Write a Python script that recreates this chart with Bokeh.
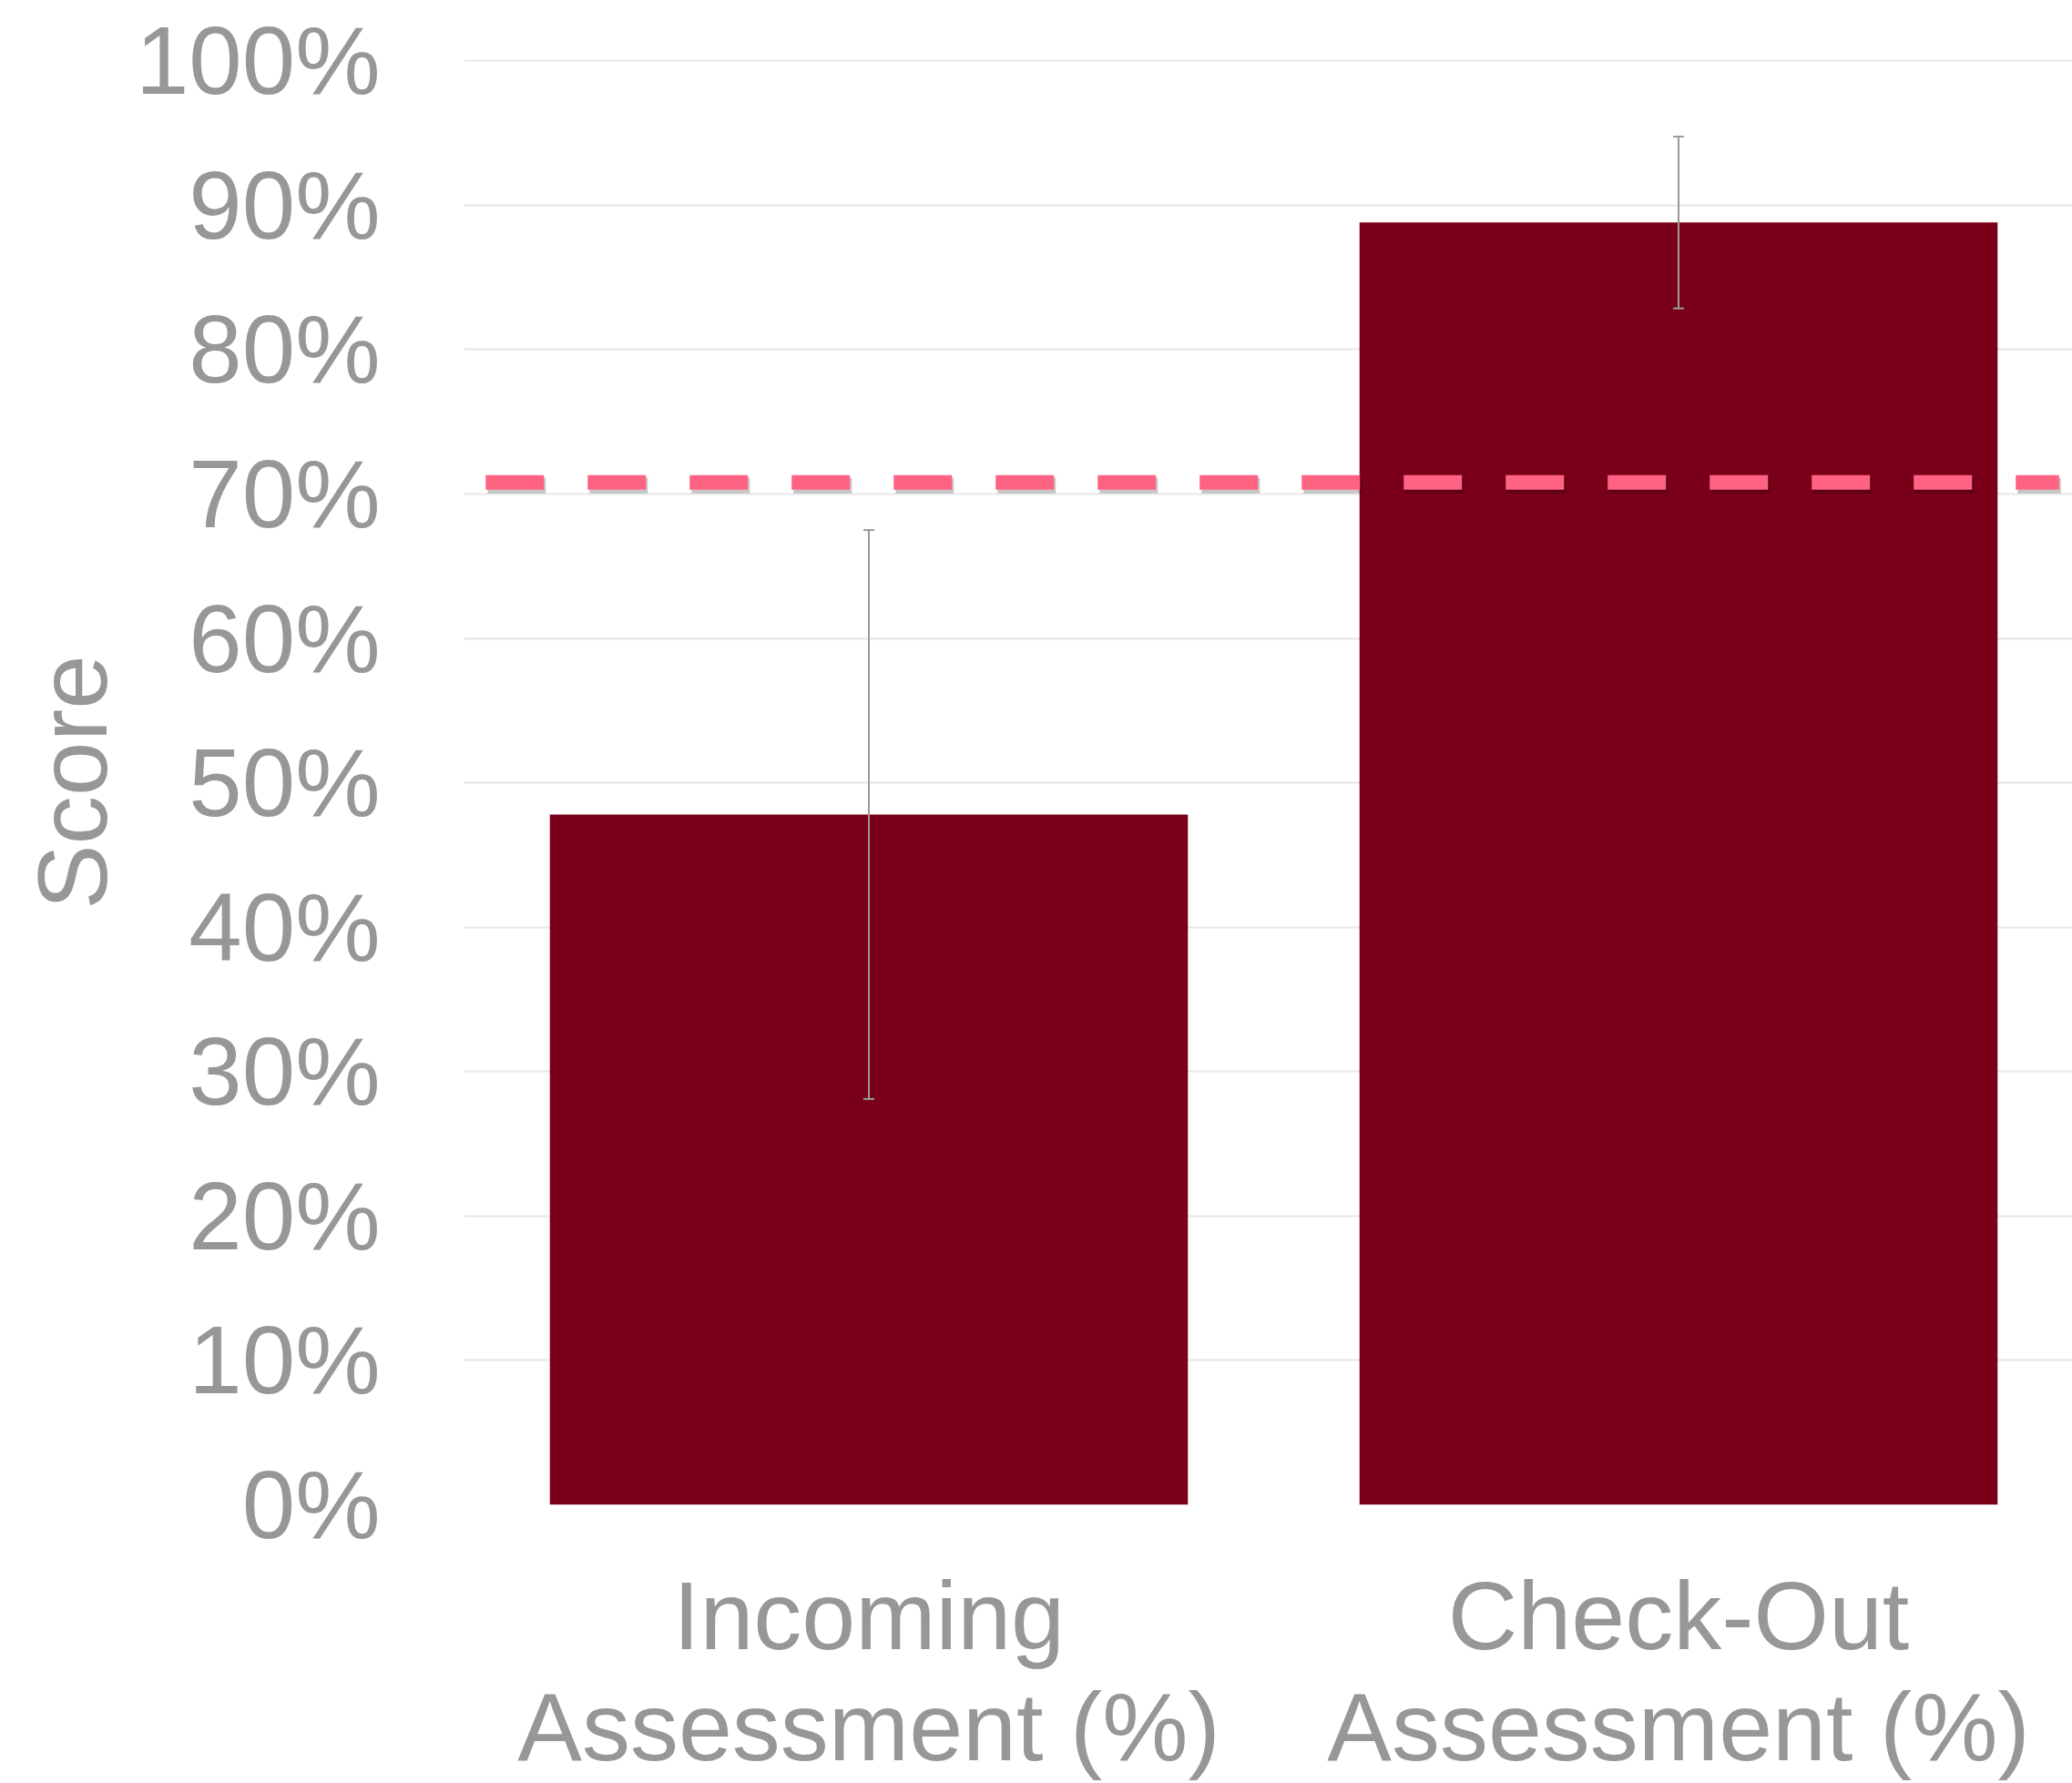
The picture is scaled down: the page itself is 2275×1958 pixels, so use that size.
from bokeh.plotting import figure
from bokeh.models import Range1d, FixedTicker, Whisker, TeeHead, ColumnDataSource
from bokeh.embed import file_html
from bokeh.resources import INLINE

# ---- data ----
categories = ["Incoming\nAssessment (%)", "Check-Out\nAssessment (%)"]
scores = [47.8, 88.8]
errors = [19.7, 5.95]
threshold = 70.8
y_ticks = [0, 10, 20, 30, 40, 50, 60, 70, 80, 90, 100]
y_tick_labels = ["0%", "10%", "20%", "30%", "40%", "50%", "60%", "70%", "80%", "90%", "100%"]

xs = [i + 0.5 for i in range(len(categories))]
src = ColumnDataSource(dict(
    x=xs, top=scores,
    upper=[s + e for s, e in zip(scores, errors)],
    lower=[s - e for s, e in zip(scores, errors)],
))

TEXT = "#979797"
FONT = "Liberation Sans"

PX_PER_UNIT_X = 889.0     # pixels per category
PX_PER_PCT = 15.87        # pixels per percent

p = figure(width=2275, height=1958,
           x_range=Range1d(0, 1766 / PX_PER_UNIT_X),
           y_range=Range1d(0, 100 + 1.2 / PX_PER_PCT),
           output_backend="svg", toolbar_location=None,
           min_border_left=509, min_border_right=0, min_border_top=65, min_border_bottom=305)
p.outline_line_color = None
p.background_fill_color = "white"
p.border_fill_color = "white"

# grid
p.xgrid.visible = False
p.ygrid.ticker = FixedTicker(ticks=y_ticks)
p.ygrid.grid_line_color = "#e6e6e6"
p.ygrid.grid_line_width = 2

# bars
p.vbar(x="x", top="top", bottom=0, width=0.788, source=src, fill_color="#7A0019", line_color=None)

# error bars
head_kw = dict(size=12, line_color="#999999", line_width=2)
wh = Whisker(source=src, base="x", upper="upper", lower="lower", line_color="#999999", line_width=2,
             upper_head=TeeHead(**head_kw), lower_head=TeeHead(**head_kw), level="annotation")
p.add_layout(wh)

# threshold line with soft shadow
x0, x1 = 0.0267, 1.970
dy = 3.5 / PX_PER_PCT
dx = 2 / PX_PER_UNIT_X
p.line(x=[x0 + dx, x1 + dx], y=[threshold - dy] * 2, line_color="black", line_alpha=0.22,
       line_width=17, line_dash="64 48")
p.line(x=[x0, x1], y=[threshold] * 2, line_color="#FF6384", line_width=16, line_dash="64 48")

# y axis
ya = p.yaxis[0]
ya.ticker = FixedTicker(ticks=y_ticks)
ya.major_label_overrides = dict(zip(y_ticks, y_tick_labels))
ya.major_label_text_font = FONT
ya.major_label_text_font_size = "105px"
ya.major_label_text_color = TEXT
ya.major_label_standoff = 92
ya.axis_line_color = None
ya.major_tick_line_color = None
ya.minor_tick_line_color = None
ya.major_tick_out = 0
ya.major_tick_in = 0
ya.axis_label = "Score"
ya.axis_label_text_font = FONT
ya.axis_label_text_font_size = "107px"
ya.axis_label_text_font_style = "normal"
ya.axis_label_text_color = TEXT
ya.axis_label_standoff = 6

# x axis
xa = p.xaxis[0]
xa.ticker = FixedTicker(ticks=xs)
xa.major_label_overrides = dict(zip(xs, categories))
xa.major_label_text_font = FONT
xa.major_label_text_font_size = "106px"
xa.major_label_text_color = TEXT
xa.major_label_text_line_height = 1.04
xa.major_label_standoff = 62
xa.axis_line_color = None
xa.major_tick_line_color = None
xa.minor_tick_line_color = None
xa.major_tick_out = 0
xa.major_tick_in = 0

open("out.html", "w").write(file_html(p, INLINE))
